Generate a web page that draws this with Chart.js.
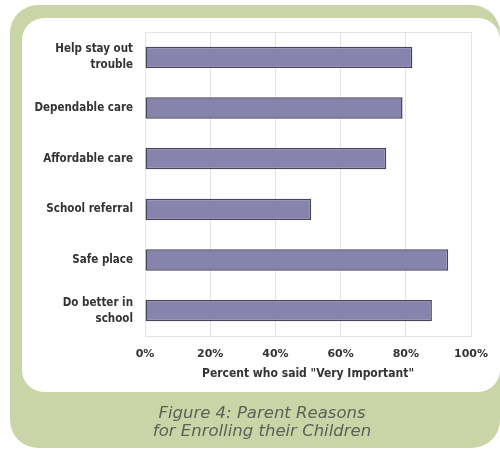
<!DOCTYPE html>
<html>
<head>
<meta charset="utf-8">
<script src="https://cdn.jsdelivr.net/npm/chart.js@4"></script>
<style>
  body { margin: 0; background: #fff; width: 500px; height: 454px; overflow: hidden; position: relative; }
  #frame { position: absolute; left: 10px; top: 5px; width: 490px; height: 443px; background: #c9d5a7; border-radius: 28px 28px 28px 28px; }
  #panel { position: absolute; left: 22px; top: 18px; width: 478px; height: 374px; background: #fff; border-radius: 22px; }
  #chart { position: absolute; left: 0; top: 0; }
  .caption { position: absolute; left: 10px; width: 504px; text-align: center; font-family: "DejaVu Sans", sans-serif; font-style: italic; font-size: 16.5px; color: #5d6258; }
</style>
</head>
<body>
<div id="frame"></div>
<div id="panel"></div>
<canvas id="chart" width="500" height="454"></canvas>
<div class="caption" style="top:403px">Figure 4: Parent Reasons</div>
<div class="caption" style="top:421px">for Enrolling their Children</div>
<script>
// Dados do gráfico
const categorias = [['Help stay out', 'trouble'], 'Dependable care', 'Affordable care', 'School referral', 'Safe place', ['Do better in', 'school']];
const valores = [82, 79, 74, 51, 93, 88];
const ticksX = [0, 20, 40, 60, 80, 100];

function desenharGrafico() {
    const ctx = document.getElementById('chart').getContext('2d');
    new Chart(ctx, {
        type: 'bar',
        data: {
            labels: categorias,
            datasets: [{
                data: valores,
                backgroundColor: '#8684ad',
                borderColor: '#48445a',
                borderWidth: 1.5,
                borderSkipped: false,
                barPercentage: 0.42,
                categoryPercentage: 1
            }]
        },
        options: {
            indexAxis: 'y',
            responsive: false,
            animation: false,
            layout: { padding: { top: 32, right: 17, left: 0, bottom: 71 } },
            plugins: { legend: { display: false }, tooltip: { enabled: false } },
            scales: {
                x: {
                    min: 0, max: 100,
                    afterBuildTicks: s => { s.ticks = ticksX.map(v => ({ value: v })); },
                    afterFit: s => { s.height = 47; },
                    border: { color: '#cfcfcf' },
                    grid: { color: '#e4e4e4', drawTicks: false },
                    ticks: {
                        padding: 12,
                        color: '#333',
                        font: { family: 'DejaVu Sans', weight: 'bold', size: 11 },
                        callback: v => v + '%'
                    },
                    title: {
                        display: true,
                        text: 'Percent who said "Very Important"',
                        color: '#333',
                        padding: { top: 0, bottom: 2 },
                        font: { family: 'DejaVu Sans Condensed', weight: 'bold', size: 12 }
                    }
                },
                y: {
                    afterFit: s => { s.width = 145; },
                    border: { color: '#e4e4e4' },
                    grid: { display: false, drawTicks: false },
                    ticks: {
                        padding: 12,
                        color: '#333',
                        font: { family: 'DejaVu Sans Condensed', weight: 'bold', size: 11.5, lineHeight: 1.4 }
                    }
                }
            }
        },
        plugins: [{
            id: 'moldura',
            beforeDatasetsDraw(chart) {
                const a = chart.chartArea, c = chart.ctx;
                c.save();
                c.strokeStyle = '#e4e4e4';
                c.lineWidth = 1;
                c.strokeRect(a.left + 0.5, a.top + 0.5, a.right - a.left, a.bottom - a.top);
                c.restore();
            }
        }]
    });
}
desenharGrafico();
</script>
</body>
</html>
